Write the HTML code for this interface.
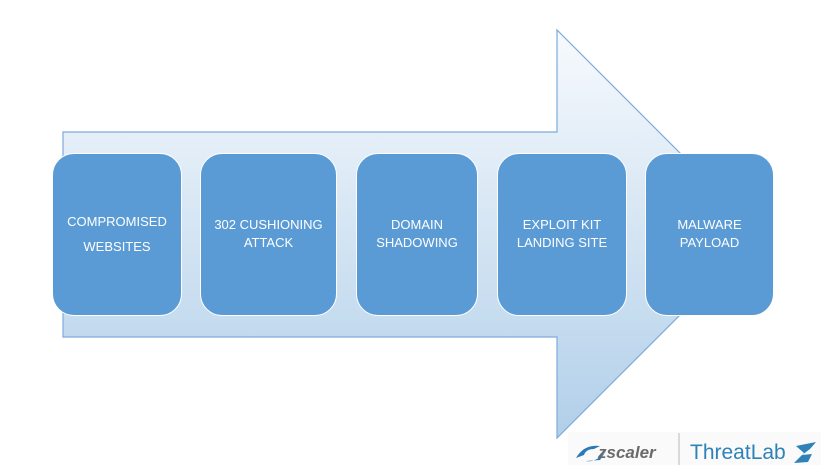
<!DOCTYPE html>
<html><head><style>
body{margin:0;width:821px;height:465px;background:#fff;position:relative;overflow:hidden;font-family:"Liberation Sans",sans-serif}
.b{position:absolute;top:153px;height:163px;background:#5b9bd5;border:1.5px solid #fff;border-radius:22px;box-sizing:border-box;color:#fff;font-size:13px;text-align:center;line-height:18px}
.b span{position:absolute;left:0;right:0}
</style></head><body>
<svg width="821" height="465" style="position:absolute;left:0;top:0">
<defs><linearGradient id="g" x1="0" y1="0" x2="0" y2="1">
<stop offset="0" stop-color="#f7fafd"/><stop offset="1" stop-color="#b1cfe9"/></linearGradient></defs>
<polygon points="63,132 557,132 557,30 761,234 557,438 557,337 63,337" fill="url(#g)" stroke="#7eaadb" stroke-width="1.2"/>
<rect x="568" y="432" width="253" height="33" fill="#fafafa"/>
<line x1="679" y1="433" x2="679" y2="465" stroke="#bbb" stroke-width="1"/>
<path d="M576,458 q8,-14 24,-12 l-6,3 q-8,0 -10,6 z M586,461 q10,2 20,-10 l-6,9 z" fill="#2a7ab8"/>
<text x="598" y="458" font-family="Liberation Sans" font-size="17" font-style="italic" font-weight="bold" fill="#6b6b6b">zscaler</text>
<text x="690" y="459" font-family="Liberation Sans" font-size="21" fill="#2e82b8">ThreatLab</text>
<path d="M796,446 l20,-4 l-6,7 l-8,6 l10,-1 l-4,8 l-14,1 l10,-10 z" fill="#2e82b8"/>
</svg>
<div class="b" style="left:52px;width:130px"><span style="top:59px">COMPROMISED</span><span style="top:84px">WEBSITES</span></div>
<div class="b" style="left:200px;width:137px"><span style="top:62px">302 CUSHIONING</span><span style="top:80px">ATTACK</span></div>
<div class="b" style="left:356px;width:122px"><span style="top:62px">DOMAIN</span><span style="top:80px">SHADOWING</span></div>
<div class="b" style="left:497px;width:130px"><span style="top:62px">EXPLOIT KIT</span><span style="top:80px">LANDING SITE</span></div>
<div class="b" style="left:645px;width:129px"><span style="top:62px">MALWARE</span><span style="top:80px">PAYLOAD</span></div>
</body></html>
